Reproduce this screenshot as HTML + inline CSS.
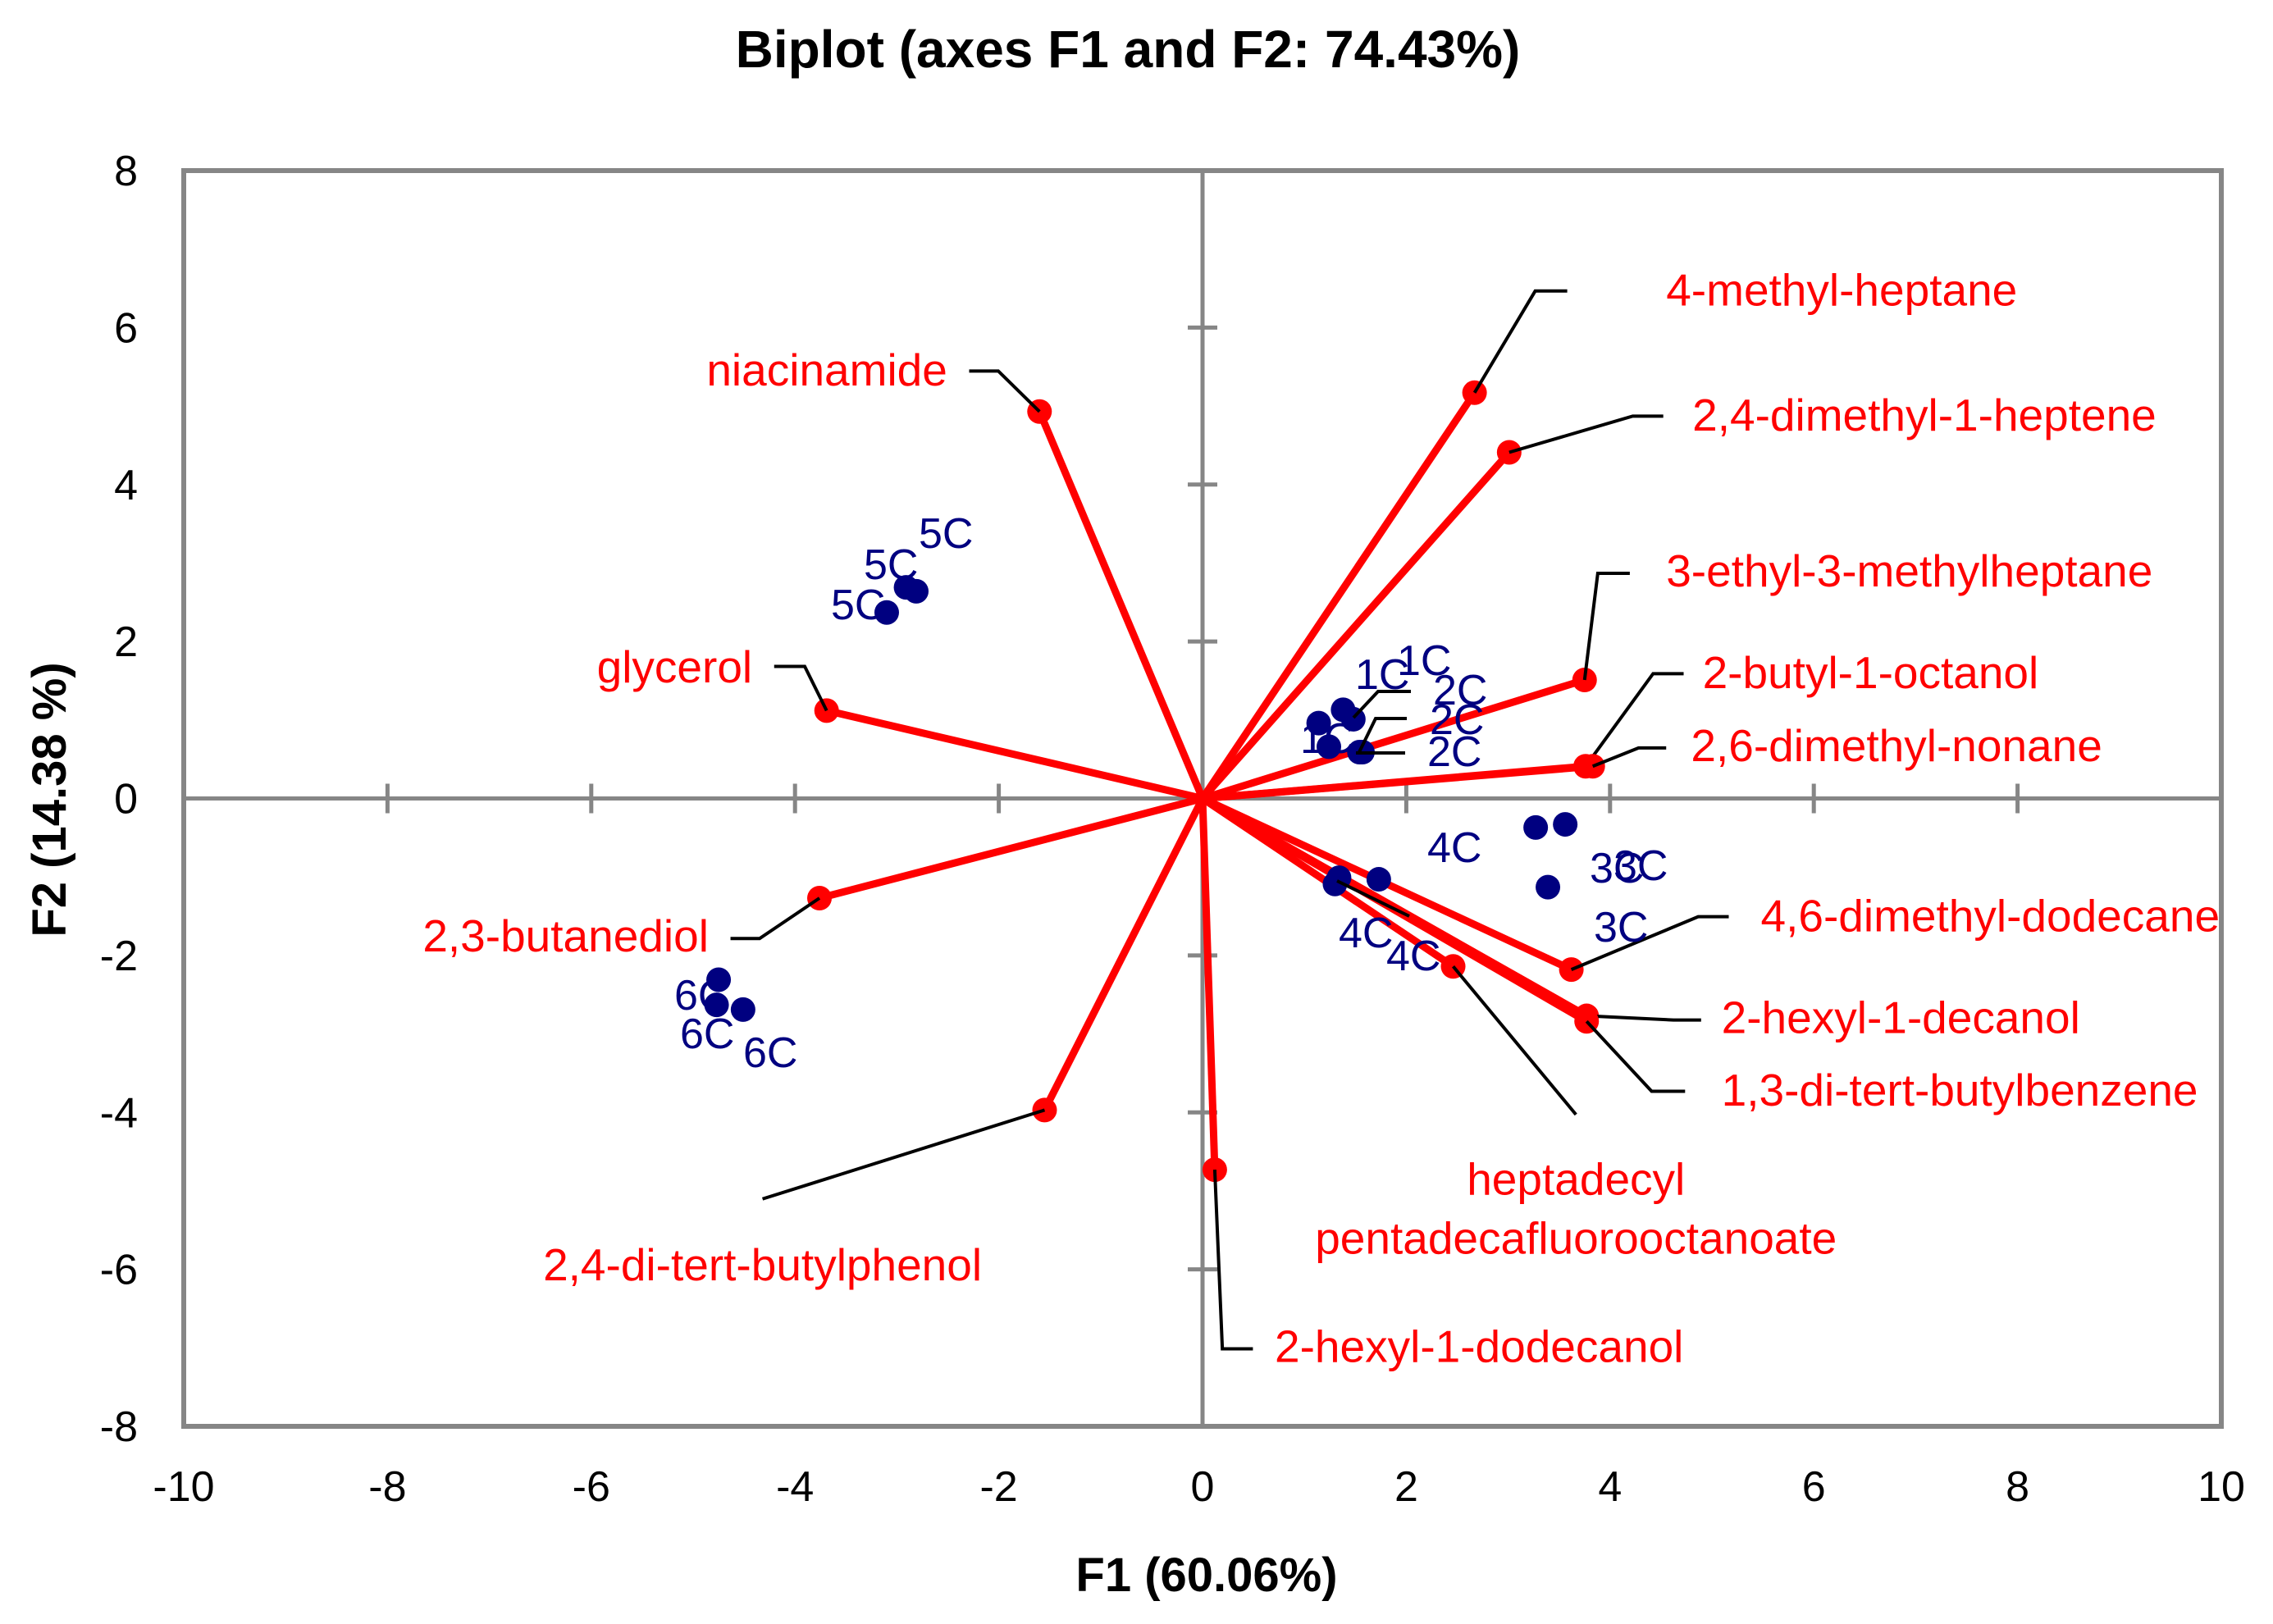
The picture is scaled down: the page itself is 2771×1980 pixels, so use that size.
<!DOCTYPE html>
<html><head><meta charset="utf-8"><style>
html,body{margin:0;padding:0;background:#fff}
svg{display:block;font-family:"Liberation Sans",sans-serif}
</style></head><body>
<svg id="chart" width="2771" height="1980" viewBox="0 0 2771 1980" xmlns="http://www.w3.org/2000/svg">
<text x="1375" y="82" font-size="64" font-weight="bold" text-anchor="middle">Biplot (axes F1 and F2: 74.43%)</text>
<text x="1471" y="1940" font-size="58" font-weight="bold" text-anchor="middle">F1 (60.06%)</text>
<text transform="translate(80,975) rotate(-90)" font-size="58" font-weight="bold" text-anchor="middle">F2 (14.38 %)</text>
<g id="axes"></g>
<g id="vectors"></g>
<g id="obs"></g>
</svg>
<script>
const xTicks=[-10,-8,-6,-4,-2,0,2,4,6,8,10];
const yTicks=[-8,-6,-4,-2,0,2,4,6,8];
const varNames=["4-methyl-heptane","2,4-dimethyl-1-heptene","3-ethyl-3-methylheptane","2-butyl-1-octanol","2,6-dimethyl-nonane","4,6-dimethyl-dodecane","2-hexyl-1-decanol","1,3-di-tert-butylbenzene","heptadecyl pentadecafluorooctanoate","2-hexyl-1-dodecanol","2,4-di-tert-butylphenol","2,3-butanediol","glycerol","niacinamide"];
const varF1=[2.67,3.01,3.75,3.76,3.83,3.62,3.77,3.77,2.46,0.12,-1.55,-3.76,-3.69,-1.60];
const varF2=[5.17,4.41,1.51,0.41,0.41,-2.18,-2.77,-2.84,-2.14,-4.73,-3.97,-1.27,1.12,4.93];
const obsNames=["1C","1C","1C","2C","2C","2C","3C","3C","3C","4C","4C","4C","5C","5C","5C","6C","6C","6C"];
const obsF1=[1.38,1.48,1.14,1.24,1.54,1.57,3.27,3.56,3.39,1.30,1.34,1.73,-3.10,-2.91,-2.81,-4.75,-4.77,-4.51];
const obsF2=[1.13,1.01,0.96,0.66,0.59,0.59,-0.37,-0.33,-1.13,-1.09,-1.01,-1.03,2.37,2.69,2.64,-2.31,-2.63,-2.69];

const L=224,R=2708,T=208,B=1739;
const X=v=>L+(v+10)/20*(R-L);
const Y=v=>B-(v+8)/16*(B-T);
const NS="http://www.w3.org/2000/svg";
function mk(tag,attrs,parent){const e=document.createElementNS(NS,tag);for(const k in attrs)e.setAttribute(k,attrs[k]);parent.appendChild(e);return e;}
const ax=document.getElementById('axes');
let e;
e=mk('rect',{x:L,y:T,width:R-L,height:B-T,fill:'none',stroke:'#868686','stroke-width':6},ax);


e=mk('line',{x1:L,x2:R,y1:Y(0),y2:Y(0),stroke:'#868686','stroke-width':5},ax);


e=mk('line',{x1:X(0),x2:X(0),y1:T,y2:B,stroke:'#868686','stroke-width':5},ax);


xTicks.forEach(t=>{
  e=mk('line',{x1:X(t),x2:X(t),y1:Y(0)-18,y2:Y(0)+18,stroke:'#868686','stroke-width':5},ax);
  
  
  e=mk('text',{x:X(t),y:1830,'font-size':52,'text-anchor':'middle'},ax);
  e.textContent=t;
  
  
});
yTicks.forEach(t=>{
  e=mk('line',{x1:X(0)-18,x2:X(0)+18,y1:Y(t),y2:Y(t),stroke:'#868686','stroke-width':5},ax);
  
  
  e=mk('text',{x:168,y:Y(t)+18,'font-size':52,'text-anchor':'end'},ax);
  e.textContent=t;
  
  
});
const s=1.774;
const varLab=[
 [1145,210,'start',[[1055,200],[1077,200]]],
 [1163,296,'start',[[1122,286],[1143,286]]],
 [1145,403,'start',[[1098,394],[1120,394]]],
 [1170,473,'start',[[1136,463],[1157,463]]],
 [1162,523,'start',[[1126,514],[1145,514]]],
 [1210,640,'start',[[1167,630],[1188,630]]],
 [1183,710,'start',[[1150,701],[1169,701]]],
 [1183,760,'start',[[1135,750],[1158,750]]],
 [1083,821,'middle',[[1083,766]]],
 [876,936,'start',[[840,927],[861,927]]],
 [524,880,'middle',[[524,824]]],
 [487,654,'end',[[522,645],[502,645]]],
 [517,469,'end',[[553,458],[532,458]]],
 [651,265,'end',[[686,255],[666,255]]]
];
const vg=document.getElementById('vectors');
varNames.forEach((n,i)=>{
  const px=X(varF1[i]),py=Y(varF2[i]);
  e=mk('line',{x1:X(0),y1:Y(0),x2:px,y2:py,stroke:'#ff0000','stroke-width':9},vg);
  
  
});
varNames.forEach((n,i)=>{
  const px=X(varF1[i]),py=Y(varF2[i]);
  e=mk('circle',{cx:px,cy:py,r:15,fill:'#ff0000'},vg);
  
  
  const lab=varLab[i];
  const pts=[[px,py]].concat(lab[3].map(p=>[p[0]*s,p[1]*s]));
  e=mk('polyline',{points:pts.map(p=>p.join(',')).join(' '),fill:'none',stroke:'#000','stroke-width':4},vg);
  
  
  e=mk('text',{x:lab[0]*s,y:lab[1]*s,'font-size':55,fill:'#ff0000','text-anchor':lab[2]},vg);
  
  
  if(n.startsWith('heptadecyl')){
    const t1=mk('tspan',{x:lab[0]*s},e);t1.textContent='heptadecyl';
    const t2=mk('tspan',{x:lab[0]*s,dy:72},e);t2.textContent='pentadecafluorooctanoate';
  } else e.textContent=n;
});
const og=document.getElementById('obs');
const obsLab=[[1652,840],[1703,823],[1585,918],[1747,859],[1740,934],[1743,895],[1938,1076],[1967,1073],[1943,1148],[1740,1051],[1632,1155],[1690,1183],[1013,755],[1053,706],[1120,668],[822,1231],[829,1278],[906,1301]];
const obsLeads=[[[1650,875],[1680,843],[1720,843]],[[1657,917],[1677,876],[1715,876]],[[1653,918],[1713,918]],[[1630,1074],[1718,1117]]];
obsNames.forEach((n,i)=>{
  e=mk('text',{x:obsLab[i][0],y:obsLab[i][1],'font-size':52,fill:'#000080'},og);
  e.textContent=n;
  
  
});
obsNames.forEach((n,i)=>{
  e=mk('circle',{cx:X(obsF1[i]),cy:Y(obsF2[i]),r:15,fill:'#000080'},og);
  
  
});
obsLeads.forEach(p=>{
  e=mk('polyline',{points:p.map(q=>q.join(',')).join(' '),fill:'none',stroke:'#000','stroke-width':4},og);
  
  
});
</script>
</body></html>
